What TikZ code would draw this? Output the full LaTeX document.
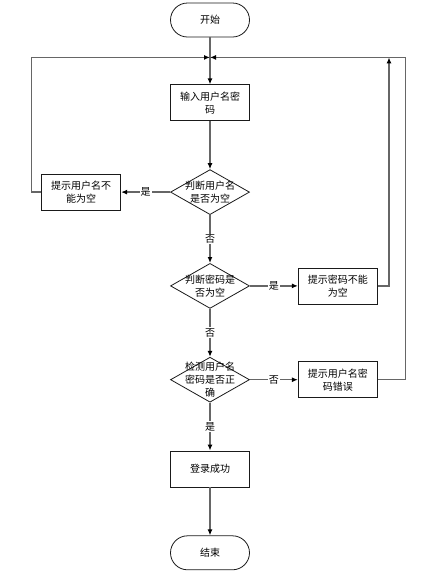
\documentclass[tikz,border=0pt]{standalone}
\usepackage{fontspec}
\newfontfamily\cjk{Noto Sans CJK SC}
\usepackage{xcolor}
\usetikzlibrary{shapes.geometric,arrows.meta,positioning,calc}
\definecolor{lnGrey}{HTML}{666666}
\definecolor{bdBlack}{HTML}{1A1A1A}

\begin{document}
\begin{tikzpicture}[
  font=\cjk\fontsize{10}{13}\selectfont,
  node distance=48pt,
  box/.style={draw=bdBlack,fill=white,line width=0.8pt,minimum width=79pt,minimum height=36pt,
              align=center,inner sep=1pt},
  term/.style={box,rounded corners=17pt,minimum height=34pt},
  dec/.style={draw=bdBlack,fill=white,line width=0.8pt,diamond,inner sep=0pt,
              minimum width=79pt,minimum height=45pt},
  ar/.style={-{Latex[length=6pt,width=5pt,black]},draw=lnGrey,line width=1.3pt},
  lbl/.style={fill=white,inner sep=1pt}]

\useasboundingbox (0,0) rectangle (440pt,-571pt);

\node[term] (start) at (210pt,-20pt) {开始};
\node[box,below=47pt of start] (in) {输入用户名密\\码};
\node[dec,below=of in,label={[align=center]center:判断用户名\\是否为空}] (r1) {};
\node[dec,below=of r1,label={[align=center]center:判断密码是\\否为空}] (r2) {};
\node[dec,below=of r2,label={[align=center]center:检测用户名\\密码是否正\\确}] (r3) {};
\node[box,below=of r3] (ok) {登录成功};
\node[term,below=of ok] (stop) {结束};

\node[box,left=49pt of r1] (w1) {提示用户名不\\能为空};
\node[box,right=of r2] (w2) {提示密码不能\\为空};
\node[box,right=of r3] (w3) {提示用户名密\\码错误};

\coordinate[below=20pt of start] (join);
\coordinate (up) at ($(join)+(179pt,0)$);

\draw[ar] (start) -- (in);
\draw[ar] (in) -- (r1);
\draw[ar] (r1) -- node[lbl]{是} (w1);
\draw[ar] (r1) -- node[lbl]{否} (r2);
\draw[ar] (r2) -- node[lbl]{是} (w2);
\draw[ar] (r2) -- node[lbl]{否} (r3);
\draw[ar] (r3) -- node[lbl]{否} (w3);
\draw[ar] (r3) -- node[lbl]{是} (ok);
\draw[ar] (ok) -- (stop);
\draw[ar] (w1.west) -- ++(-10pt,0) |- (join);
\draw[ar] (w2.east) -| (up);
\draw[ar] (w3.east) -- ++(28pt,0) |- (join);
\end{tikzpicture}
\end{document}
